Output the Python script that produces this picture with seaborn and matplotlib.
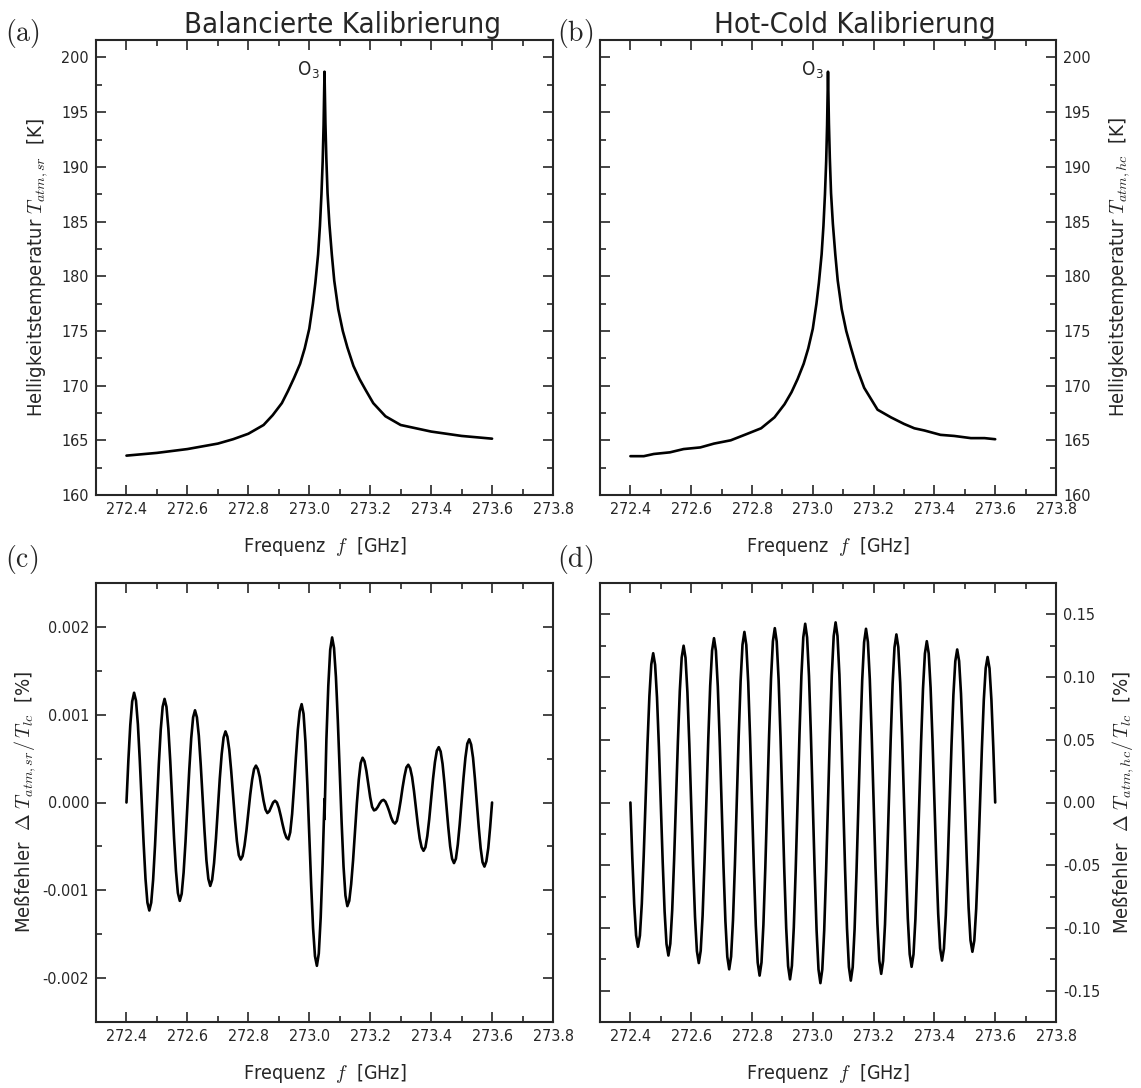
import numpy as np
import matplotlib
matplotlib.use('Agg')
import matplotlib.pyplot as plt
import seaborn as sns
from matplotlib.ticker import MultipleLocator, FuncFormatter

sns.set_style('ticks')
plt.rcParams['font.family'] = ['DejaVu Sans']
plt.rcParams['font.stretch'] = 'condensed'
plt.rcParams['mathtext.fontset'] = 'cm'
plt.rcParams['axes.unicode_minus'] = False

# --- spectra (brightness temperature, K) ---
spec_freq_a = [272.40, 272.50, 272.60, 272.70, 272.75, 272.80, 272.85, 272.88, 272.91, 272.93,
               272.95, 272.97, 272.985, 273.0, 273.012, 273.02, 273.029, 273.035, 273.04, 273.044,
               273.047, 273.05, 273.053, 273.056, 273.06, 273.066, 273.074, 273.082, 273.095, 273.11,
               273.125, 273.145, 273.165, 273.185, 273.21, 273.25, 273.30, 273.40, 273.50, 273.60]
spec_temp_a = [163.6, 163.85, 164.2, 164.7, 165.1, 165.6, 166.4, 167.3, 168.4, 169.5,
               170.7, 172.0, 173.4, 175.2, 177.5, 179.4, 182.0, 184.6, 187.5, 190.5,
               193.8, 198.7, 194.0, 190.8, 187.6, 184.8, 182.0, 179.6, 177.0, 175.0,
               173.5, 171.8, 170.6, 169.6, 168.4, 167.2, 166.4, 165.8, 165.4, 165.15]

spec_freq_b = [272.40, 272.444, 272.477, 272.53, 272.575, 272.63, 272.675, 272.73, 272.785, 272.83,
               272.874, 272.907, 272.93, 272.95, 272.97, 272.985, 273.0, 273.012, 273.02, 273.029,
               273.035, 273.04, 273.044, 273.047, 273.05, 273.053, 273.056, 273.06, 273.066, 273.074,
               273.082, 273.095, 273.11, 273.125, 273.145, 273.169, 273.213, 273.257, 273.30, 273.334,
               273.367, 273.42, 273.465, 273.52, 273.565, 273.60]
spec_temp_b = [163.55, 163.55, 163.75, 163.9, 164.2, 164.35, 164.7, 165.0, 165.6, 166.1,
               167.1, 168.3, 169.4, 170.6, 172.0, 173.4, 175.2, 177.5, 179.4, 182.0,
               184.6, 187.5, 190.5, 193.8, 198.7, 194.0, 190.8, 187.6, 184.8, 182.0,
               179.6, 177.0, 175.0, 173.5, 171.6, 169.8, 167.8, 167.1, 166.5, 166.1,
               165.9, 165.5, 165.4, 165.2, 165.2, 165.1]

# --- measurement error (%), sampled every 6.25 MHz ---
err_freq = np.round(np.linspace(272.4, 273.6, 193), 5)
# balanced calibration has a small jump at the line centre (273.05 GHz)
sr_freq = np.insert(err_freq, 105, 273.05)
err_sr = [0.0, 0.00048, 0.00088, 0.00115, 0.00125, 0.00116, 0.00089, 0.00048,
          0.00001, -0.00046, -0.00087, -0.00114, -0.00123, -0.00114, -0.00088, -0.00049,
          -0.00003, 0.00044, 0.00083, 0.00109, 0.00118, 0.00109, 0.00084, 0.00047,
          0.00003, -0.00041, -0.00078, -0.00103, -0.00112, -0.00104, -0.00080, -0.00045,
          -0.00004, 0.00038, 0.00073, 0.00097, 0.00105, 0.00097, 0.00076, 0.00043,
          0.00005, -0.00033, -0.00066, -0.00087, -0.00095, -0.00088, -0.00069, -0.00041,
          -0.00007, 0.00027, 0.00055, 0.00074, 0.00081, 0.00075, 0.00060, 0.00036,
          0.00008, -0.00020, -0.00044, -0.00060, -0.00065, -0.00061, -0.00049, -0.00032,
          -0.00012, 0.00009, 0.00026, 0.00038, 0.00042, 0.00038, 0.00029, 0.00015,
          0.00002, -0.00008, -0.00012, -0.00010, -0.00005, 0.00000, 0.00002, 0.00000,
          -0.00006, -0.00015, -0.00025, -0.00034, -0.00040, -0.00042, -0.00034, -0.00013,
          0.00018, 0.00052, 0.00083, 0.00104, 0.00112, 0.00101, 0.00069, 0.00020,
          -0.00037, -0.00094, -0.00143, -0.00175, -0.00186, -0.00172, -0.00131, -0.00070,
          0.00004, -0.00019, 0.00072, 0.00133, 0.00174,
          0.00188, 0.00176, 0.00143, 0.00093, 0.00035, -0.00023, -0.00073, -0.00106,
          -0.00118, -0.00112, -0.00093, -0.00066, -0.00033, -0.00001, 0.00026, 0.00045,
          0.00051, 0.00047, 0.00036, 0.00021, 0.00006, -0.00005, -0.00009, -0.00008,
          -0.00005, -0.00001, 0.00002, 0.00003, 0.00001, -0.00004, -0.00010, -0.00017,
          -0.00022, -0.00024, -0.00021, -0.00011, 0.00002, 0.00017, 0.00030, 0.00040,
          0.00043, 0.00039, 0.00029, 0.00013, -0.00006, -0.00025, -0.00041, -0.00051,
          -0.00055, -0.00051, -0.00038, -0.00019, 0.00004, 0.00027, 0.00046, 0.00059,
          0.00063, 0.00058, 0.00044, 0.00022, -0.00003, -0.00028, -0.00050, -0.00064,
          -0.00069, -0.00064, -0.00048, -0.00025, 0.00002, 0.00028, 0.00051, 0.00067,
          0.00072, 0.00066, 0.00051, 0.00027, 0.00000, -0.00028, -0.00052, -0.00068,
          -0.00073, -0.00067, -0.00052, -0.00028, 0.0]
err_hc = [0.0, -0.044, -0.081, -0.106, -0.115, -0.1061, -0.0808, -0.0427,
          0.002, 0.0467, 0.0848, 0.1101, 0.119, 0.1098, 0.0838, 0.0445,
          -0.0015, -0.0475, -0.0868, -0.1128, -0.122, -0.1126, -0.0859, -0.0457,
          0.0015, 0.0487, 0.0889, 0.1156, 0.125, 0.1154, 0.0881, 0.0468,
          -0.0015, -0.0498, -0.0911, -0.1184, -0.128, -0.1182, -0.0902, -0.048,
          0.0015, 0.051, 0.0932, 0.1212, 0.131, 0.121, 0.0925, 0.0494,
          -0.001, -0.0514, -0.0945, -0.123, -0.133, -0.1228, -0.0937, -0.0499,
          0.0015, 0.0529, 0.0967, 0.1258, 0.136, 0.1256, 0.096, 0.0513,
          -0.001, -0.0533, -0.098, -0.1276, -0.138, -0.1275, -0.0976, -0.0524,
          0.0005, 0.0534, 0.0986, 0.1285, 0.139, 0.1284, 0.0981, 0.0525,
          -0.001, -0.0545, -0.1001, -0.1304, -0.141, -0.1302, -0.0996, -0.0534,
          0.0008, 0.0549, 0.1011, 0.1317, 0.1425, 0.1316, 0.1007, 0.054,
          -0.0008, -0.0555, -0.1022, -0.1331, -0.144, -0.1331, -0.102, -0.0551,
          -0.0002, 0.0547, 0.1016, 0.1327, 0.1436, 0.1327, 0.1019, 0.0553,
          0.0008, -0.0537, -0.1003, -0.1311, -0.142, -0.1313, -0.101, -0.0553,
          -0.0017, 0.0518, 0.0975, 0.1278, 0.1385, 0.128, 0.0983, 0.0535,
          0.0009, -0.0516, -0.0964, -0.1261, -0.1366, -0.1263, -0.0971, -0.053,
          -0.0013, 0.0504, 0.0945, 0.1237, 0.134, 0.1239, 0.0953, 0.0521,
          0.0015, -0.0491, -0.0923, -0.1209, -0.131, -0.1211, -0.0931, -0.0508,
          -0.0012, 0.0484, 0.0907, 0.1187, 0.1286, 0.1189, 0.0914, 0.0499,
          0.0013, -0.0473, -0.0888, -0.1163, -0.126, -0.1166, -0.0898, -0.0494,
          -0.002, 0.0454, 0.0858, 0.1126, 0.122, 0.1128, 0.0868, 0.0475,
          0.0015, -0.0445, -0.0838, -0.1098, -0.119, -0.1101, -0.0847, -0.0464,
          -0.0015, 0.0434, 0.0817, 0.1071, 0.116, 0.107, 0.082, 0.044,
          0.0]

W, H = 1141, 1088
fig = plt.figure(figsize=(W / 100, H / 100), dpi=100)


def px_rect(left, top, right, bottom):
    return [left / W, 1 - bottom / H, (right - left) / W, (bottom - top) / H]


ax_a = fig.add_axes(px_rect(96, 40, 553, 495))
ax_b = fig.add_axes(px_rect(600, 40, 1056, 495))
ax_c = fig.add_axes(px_rect(96, 583, 553, 1022))
ax_d = fig.add_axes(px_rect(600, 583, 1056, 1022))

line_kw = dict(color='black', linewidth=1.9, sort=False, estimator=None)
sns.lineplot(x=spec_freq_a, y=spec_temp_a, ax=ax_a, **line_kw)
sns.lineplot(x=spec_freq_b, y=spec_temp_b, ax=ax_b, **line_kw)
sns.lineplot(x=sr_freq, y=err_sr, ax=ax_c, **line_kw)
sns.lineplot(x=err_freq, y=err_hc, ax=ax_d, **line_kw)


def fmt(decimals):
    def f(v, pos):
        if abs(v) < 1e-12:
            v = 0.0
        return f'{v:.{decimals}f}'
    return FuncFormatter(f)


for ax in (ax_a, ax_b, ax_c, ax_d):
    ax.set_xlim(272.3, 273.8)
    ax.xaxis.set_major_locator(MultipleLocator(0.2))
    ax.xaxis.set_minor_locator(MultipleLocator(0.1))
    ax.xaxis.set_major_formatter(fmt(1))
    ax.tick_params(which='both', direction='in', top=True, bottom=True, left=True, right=True,
                   width=1.2, labelsize=11.5, pad=5)
    ax.tick_params(which='major', length=7)
    ax.tick_params(which='minor', length=4)
    for s in ax.spines.values():
        s.set_linewidth(1.5)
    ax.set_xlabel(r'Frequenz  $f$  [GHz]', fontsize=14, labelpad=13)

for ax in (ax_a, ax_b):
    ax.set_ylim(160, 201.6)
    ax.yaxis.set_major_locator(MultipleLocator(5))
    ax.yaxis.set_minor_locator(MultipleLocator(2.5))
    ax.yaxis.set_major_formatter(fmt(0))
    ax.text(273.035, 198.3, r'O$_{\mathregular{3}}$', fontsize=13.5, ha='right', va='baseline')

ax_c.set_ylim(-0.0025, 0.0025)
ax_c.yaxis.set_major_locator(MultipleLocator(0.001))
ax_c.yaxis.set_minor_locator(MultipleLocator(0.0005))
ax_c.yaxis.set_major_formatter(fmt(3))

ax_d.set_ylim(-0.175, 0.175)
ax_d.yaxis.set_major_locator(MultipleLocator(0.05))
ax_d.yaxis.set_minor_locator(MultipleLocator(0.025))
ax_d.yaxis.set_major_formatter(fmt(2))

for ax in (ax_b, ax_d):
    ax.tick_params(labelleft=False, labelright=True)
    ax.yaxis.set_label_position('right')

ax_a.set_ylabel(r'Helligkeitstemperatur $T_{atm,sr}$  [K]', fontsize=14.5)
ax_b.set_ylabel(r'Helligkeitstemperatur $T_{atm,hc}$  [K]', fontsize=14.5)
ax_c.set_ylabel(r'Meßfehler  $\Delta\ T_{atm,sr}/\,T_{lc}$  [%]', fontsize=14.5)
ax_d.set_ylabel(r'Meßfehler  $\Delta\ T_{atm,hc}/\,T_{lc}$  [%]', fontsize=14.5)
ax_a.yaxis.set_label_coords(-0.10, 0.5)
ax_c.yaxis.set_label_coords(-0.128, 0.5)
ax_b.yaxis.set_label_coords(1.112, 0.5)
ax_d.yaxis.set_label_coords(1.118, 0.5)

fig.text(342 / W, 1 - 25 / H, 'Balancierte Kalibrierung', fontsize=21, ha='center', va='center')
fig.text(855 / W, 1 - 25 / H, 'Hot-Cold Kalibrierung', fontsize=21, ha='center', va='center')
for lab, x, y in [('a', 22, 33), ('b', 575, 33), ('c', 22, 560), ('d', 575, 560)]:
    fig.text(x / W, 1 - y / H, r'$\mathrm{(%s)}$' % lab, fontsize=20, ha='center', va='center')

fig.savefig('out.png', dpi=100)
